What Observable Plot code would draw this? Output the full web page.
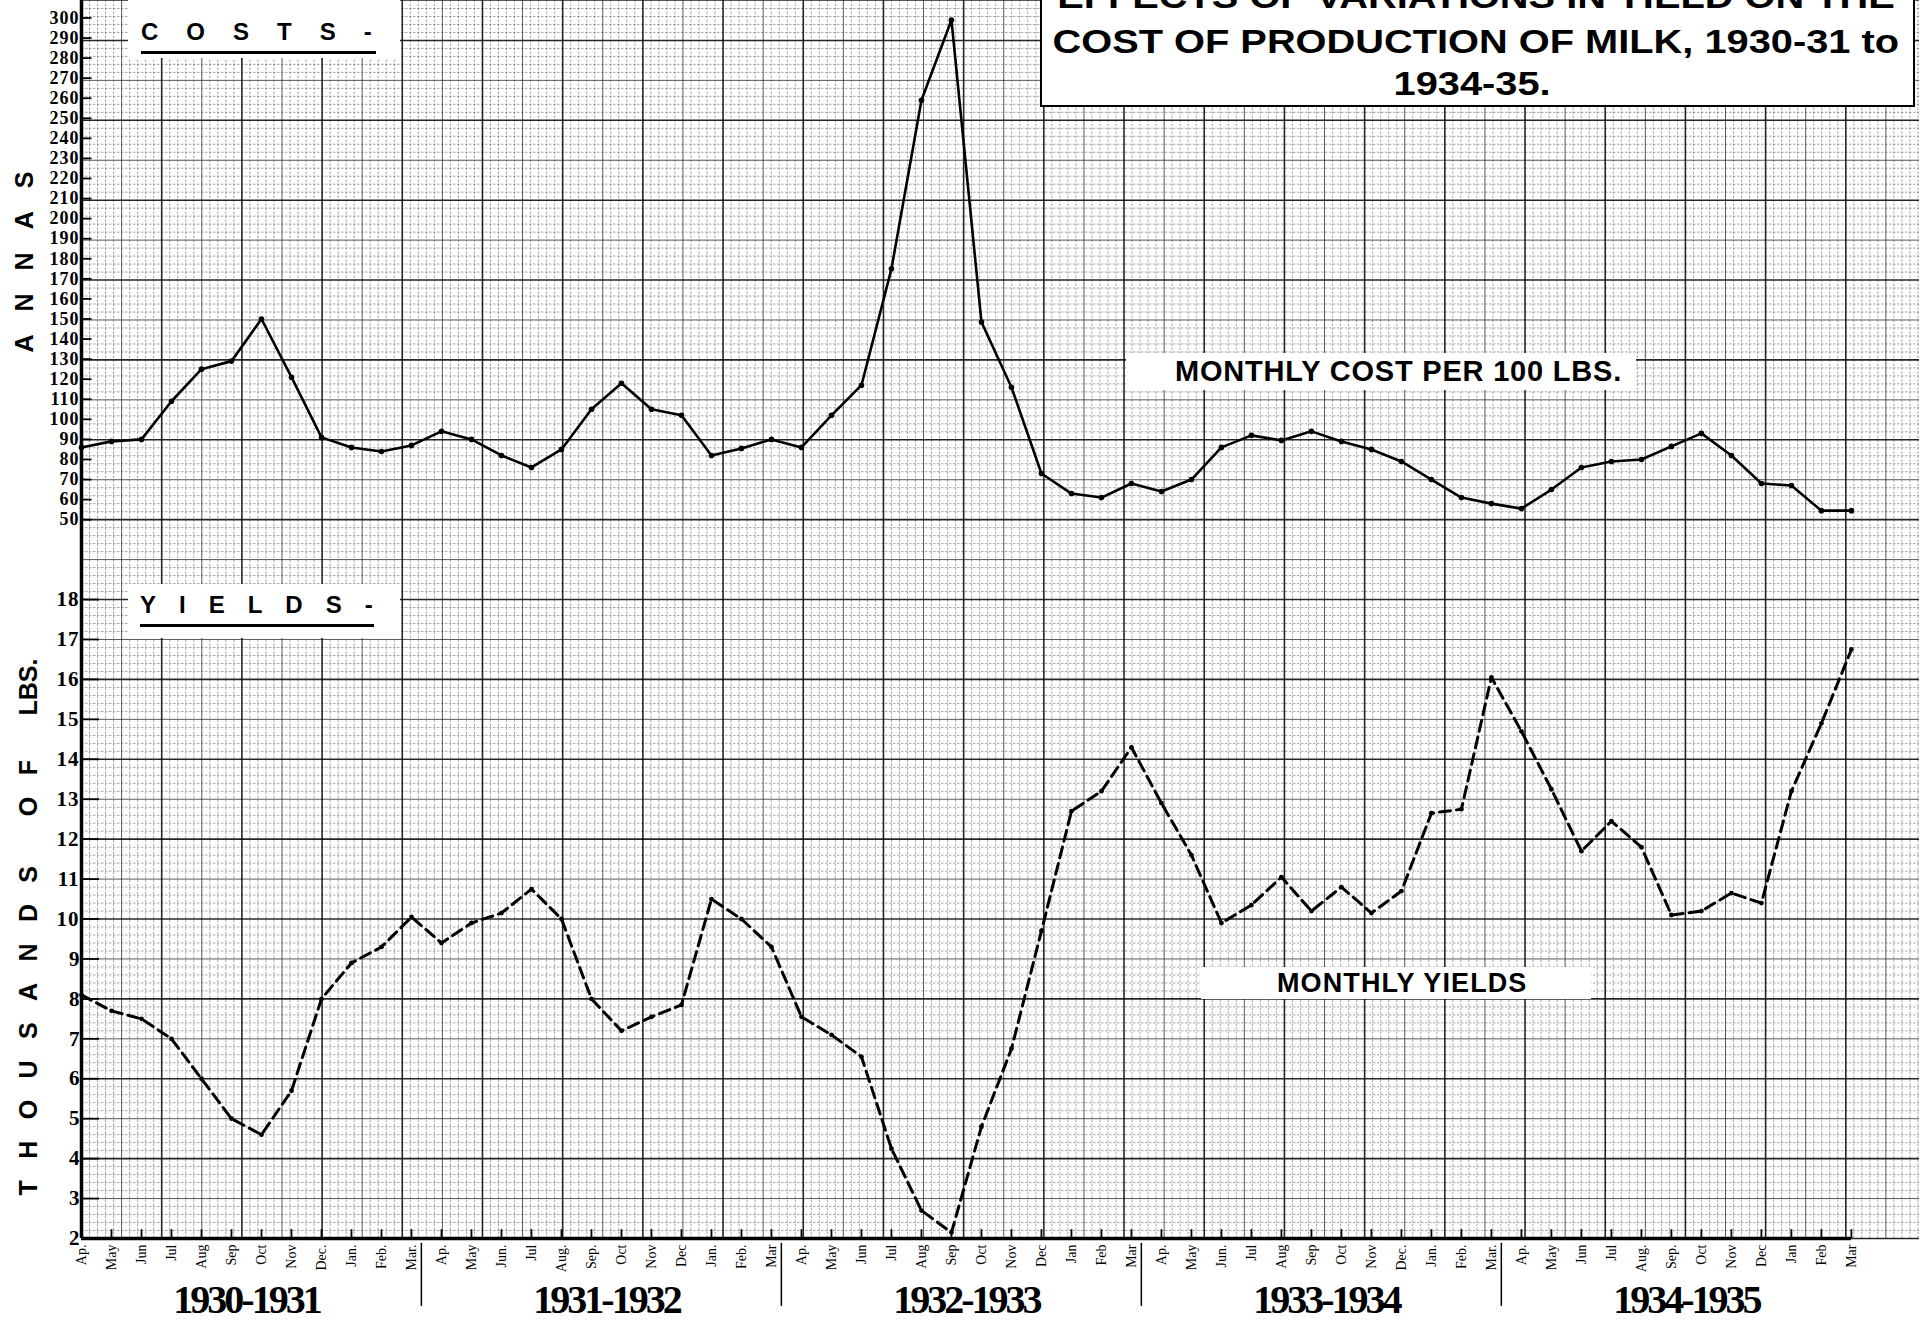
<!DOCTYPE html>
<html>
<head>
<meta charset="utf-8">
<script src="https://cdn.jsdelivr.net/npm/d3@7"></script>
<script src="https://cdn.jsdelivr.net/npm/@observablehq/plot@0.6"></script>
<style>
html, body { margin: 0; padding: 0; background: #fff; }
#wrap { position: relative; width: 1929px; height: 1324px; overflow: hidden; background: #fff; }
#wrap svg { display: block; position: absolute; left: 0; top: 0; }
.box { position: absolute; background: #fff; box-sizing: border-box; }
.lbl { position: absolute; line-height: 1; white-space: nowrap; font-family: "Liberation Sans", Arial, sans-serif; font-weight: bold; color: #000; }
.lbl span { display: inline-block; }
.uline { position: absolute; background: #000; }
</style>
</head>
<body>
<div id="wrap"></div>
<script>
// ---------------- DATA ----------------
const monthLabels = [
  "Ap.","May","Jun","Jul","Aug","Sep","Oct","Nov","Dec.","Jan.","Feb.","Mar.",
  "Ap.","May","Jun.","Jul","Aug.","Sep.","Oct","Nov","Dec","Jan.","Feb.","Mar",
  "Ap.","May","Jun","Jul","Aug","Sep","Oct","Nov","Dec","Jan","Feb","Mar",
  "Ap.","May","Jun.","Jul","Aug","Sep","Oct","Nov","Dec.","Jan.","Feb.","Mar.",
  "Ap.","May","Jun","Jul","Aug.","Sep.","Oct","Nov","Dec","Jan","Feb","Mar"
];
const seasons = ["1930-1931","1931-1932","1932-1933","1933-1934","1934-1935"];

// Monthly cost per 100 lbs (annas)
const costs = [
  86, 89, 90, 109, 125, 129, 150, 121, 91, 86, 84, 87,
  94, 90, 82, 76, 85, 105, 118, 105, 102, 82, 85.5, 90,
  86, 102, 117, 175, 259, 299, 148.5, 116, 73, 63, 61, 68,
  64, 70, 86, 92, 89.5, 94, 89, 85, 79, 70, 61, 58,
  55.5, 65, 76, 79, 80, 86.5, 93, 82, 68, 67, 54.5, 54.5
];
// Monthly yields (thousands of lbs)
const yields = [
  8.1, 7.7, 7.5, 7.0, 6.0, 5.0, 4.6, 5.7, 8.0, 8.9, 9.3, 10.05,
  9.4, 9.9, 10.15, 10.75, 10.0, 8.0, 7.2, 7.55, 7.85, 10.5, 10.0, 9.3,
  7.55, 7.1, 6.55, 4.25, 2.7, 2.15, 4.8, 6.75, 9.7, 12.7, 13.2, 14.3,
  12.9, 11.6, 9.9, 10.35, 11.05, 10.2, 10.8, 10.15, 10.7, 12.65, 12.75, 16.05,
  14.7, 13.25, 11.7, 12.45, 11.8, 10.1, 10.2, 10.65, 10.4, 13.2, 14.9, 16.75
];

const costTicks = [50,60,70,80,90,100,110,120,130,140,150,160,170,180,190,200,210,220,230,240,250,260,270,280,290,300];
const yieldTicks = [2,3,4,5,6,7,8,9,10,11,12,13,14,15,16,17,18];

// ---------------- LAYOUT ----------------
const X_MAX = 61.27, Y_MIN = 2, Y_MAX = 33;
// costs share the vertical axis with yields: 50 annas sits at the 20 (thousand lbs) level
const c2y = c => 20 + (c - 50) / 19.9;

const costData = costs.map((c, i) => ({i, v: c2y(c)}));
const yieldData = yields.map((v, i) => ({i, v}));

// graph-paper grid (decoration)
const gxStep = 80.2 / 30 / 10, gyStep = 0.2;
const gx = d3.range(0, Math.floor(X_MAX / gxStep) + 1).map(k => ({v: k * gxStep, k}));
const gy = d3.range(0, Math.floor((Y_MAX - Y_MIN) / gyStep) + 1).map(k => ({v: Y_MIN + k * gyStep, k}));
const level = k => (k % 10 === 0 ? 2 : k % 5 === 0 ? 1 : 0);

const seasonBreaks = seasons.slice(1).map((d, i) => 12 * (i + 1) - 0.67);

const serif = "'Liberation Serif', 'Times New Roman', serif";
const sans = "'Liberation Sans', Arial, sans-serif";

const chart = Plot.plot({
  width: 1929, height: 1324,
  marginLeft: 81, marginRight: 10, marginTop: 0, marginBottom: 86,
  x: {type: "linear", domain: [0, X_MAX], axis: null},
  y: {type: "linear", domain: [Y_MIN, Y_MAX], axis: null},
  style: {background: "white", fontFamily: serif, color: "black"},
  marks: [
    // grid
    Plot.ruleX(gx.filter(d => level(d.k) === 0), {x: "v", y1: Y_MIN, y2: Y_MAX, stroke: "#333", strokeOpacity: 0.55, strokeWidth: 0.8, strokeDasharray: "2.5,1.5"}),
    Plot.ruleY(gy.filter(d => level(d.k) === 0), {y: "v", x1: 0, x2: X_MAX, stroke: "#333", strokeOpacity: 0.55, strokeWidth: 0.8, strokeDasharray: "2.5,1.5"}),
    Plot.ruleX(gx.filter(d => level(d.k) === 1), {x: "v", y1: Y_MIN, y2: Y_MAX, stroke: "#222", strokeOpacity: 0.75, strokeWidth: 1}),
    Plot.ruleY(gy.filter(d => level(d.k) === 1), {y: "v", x1: 0, x2: X_MAX, stroke: "#222", strokeOpacity: 0.75, strokeWidth: 1}),
    Plot.ruleX(gx.filter(d => level(d.k) === 2), {x: "v", y1: Y_MIN, y2: Y_MAX, stroke: "#000", strokeOpacity: 0.85, strokeWidth: 1.6}),
    Plot.ruleY(gy.filter(d => level(d.k) === 2), {y: "v", x1: 0, x2: X_MAX, stroke: "#000", strokeOpacity: 0.85, strokeWidth: 1.6}),

    // axes lines
    Plot.ruleX([0], {y1: Y_MIN, y2: Y_MAX, stroke: "black", strokeWidth: 3.5}),
    Plot.ruleY([Y_MIN], {x1: 0, x2: monthLabels.length - 1, stroke: "black", strokeWidth: 3.5}),

    // ticks
    Plot.ruleX(monthLabels.map((d, i) => i), {y1: Y_MIN, y2: Y_MIN + 0.22, stroke: "black", strokeWidth: 1.8}),
    Plot.ruleY(costTicks, {y: c2y, x1: 0, x2: 0.35, stroke: "black", strokeWidth: 1.8}),
    Plot.ruleY(yieldTicks, {y: d => d, x1: 0, x2: 0.6, stroke: "black", strokeWidth: 1.8}),

    // tick labels
    Plot.text(costTicks, {y: c2y, text: d => String(d), frameAnchor: "left", textAnchor: "end", lineAnchor: "middle", dx: -2, fontSize: 18, fontWeight: "bold", fontFamily: serif, fill: "black"}),
    Plot.text(yieldTicks, {y: d => d, text: d => String(d), frameAnchor: "left", textAnchor: "end", lineAnchor: "middle", dx: -2, fontSize: 21, fontWeight: "bold", fontFamily: serif, fill: "black"}),
    Plot.text(monthLabels, {x: (d, i) => i, y: Y_MIN, text: d => d, dy: 6, rotate: -90, textAnchor: "end", lineAnchor: "middle", fontSize: 14, fontFamily: serif, fill: "black"}),
    Plot.text(seasons, {x: (d, i) => 12 * i + 5.5, y: Y_MIN, text: d => d, dy: 74, lineAnchor: "bottom", fontSize: 40, fontWeight: "bold", fontFamily: serif, fill: "black"}),
    Plot.ruleX(seasonBreaks, {y1: Y_MIN - 0.12, y2: Y_MIN - 1.7, stroke: "black", strokeWidth: 1.5}),

    // axis titles
    Plot.text(["ANNAS"], {text: d => d, frameAnchor: "top-left", dx: -57, dy: 352, rotate: -90, textAnchor: "start", lineAnchor: "middle", fontSize: 25, fontWeight: "bold", fontFamily: sans, fill: "black"}),
    Plot.text(["THOUSANDS OF"], {text: d => d, frameAnchor: "bottom-left", dx: -53, dy: -43, rotate: -90, textAnchor: "start", lineAnchor: "middle", fontSize: 25, fontWeight: "bold", fontFamily: sans, fill: "black"}),
    Plot.text(["LBS."], {text: d => d, frameAnchor: "top-left", dx: -53, dy: 715, rotate: -90, textAnchor: "start", lineAnchor: "middle", fontSize: 25, fontWeight: "bold", fontFamily: sans, fill: "black"}),

    // data
    Plot.line(costData, {x: "i", y: "v", stroke: "black", strokeWidth: 2.6}),
    Plot.dot(costData, {x: "i", y: "v", r: 2.8, fill: "black"}),
    Plot.line(yieldData, {x: "i", y: "v", stroke: "black", strokeWidth: 3, strokeDasharray: "11,6"}),
    Plot.dot(yieldData, {x: "i", y: "v", r: 2.4, fill: "black"})
  ]
});

// letter spacing for spaced-out titles
d3.select(chart).selectAll("text").each(function () {
  const t = this.textContent;
  if (t === "ANNAS") this.style.letterSpacing = "23px";
  else if (t === "THOUSANDS OF") this.style.letterSpacing = "21.4px";
  else if (/^\d{4}-\d{4}$/.test(t)) this.style.letterSpacing = "-3px";
  else if (/^\d{3}$/.test(t) || /^\d{2}$/.test(t)) this.style.letterSpacing = "1px";
});

const wrap = document.getElementById("wrap");
wrap.appendChild(chart);

// ---------------- overlays (boxed labels) ----------------
function box(l, t, w, h, border) {
  const d = document.createElement("div");
  d.className = "box";
  Object.assign(d.style, {left: l + "px", top: t + "px", width: w + "px", height: h + "px", border: border || "none"});
  wrap.appendChild(d);
}
function label(text, {x, baseline, size, spacing = 0, anchor = "start", scaleX = 1}) {
  const d = document.createElement("div");
  d.className = "lbl";
  const sp = document.createElement("span");
  sp.textContent = text;
  if (scaleX !== 1) { sp.style.transform = `scaleX(${scaleX})`; sp.style.transformOrigin = "center"; }
  d.appendChild(sp);
  const s = d.style;
  s.fontSize = size + "px";
  s.letterSpacing = spacing + "px";
  s.top = (baseline - 0.8465 * size) + "px";
  if (anchor === "middle") {
    s.left = (x - 1000) + "px"; s.width = "2000px"; s.textAlign = "center"; s.paddingLeft = spacing + "px"; s.boxSizing = "border-box";
  } else s.left = x + "px";
  wrap.appendChild(d);
}
function uline(x1, x2, y, w) {
  const d = document.createElement("div");
  d.className = "uline";
  Object.assign(d.style, {left: x1 + "px", top: (y - w / 2) + "px", width: (x2 - x1) + "px", height: w + "px"});
  wrap.appendChild(d);
}

// title
box(1040, -40, 875, 147, "2px solid #000");
label("EFFECTS OF VARIATIONS IN YIELD ON THE", {x: 1476, baseline: 8, size: 34, anchor: "middle", scaleX: 1.17});
label("COST OF PRODUCTION OF MILK, 1930-31 to", {x: 1476, baseline: 53, size: 34, anchor: "middle", scaleX: 1.17});
label("1934-35.", {x: 1472, baseline: 95, size: 34, anchor: "middle", scaleX: 1.17});

// COSTS-
box(128, 0, 272, 58);
label("COSTS-", {x: 141, baseline: 40, size: 24, spacing: 28});
uline(141, 376, 52, 3);

// YIELDS-
box(128, 584, 272, 54);
label("YIELDS-", {x: 140, baseline: 613, size: 24, spacing: 23});
uline(140, 374, 625, 3);

// series labels
box(1126, 353, 510, 37);
label("MONTHLY COST PER 100 LBS.", {x: 1175, baseline: 382, size: 29, spacing: 0.8});
box(1201, 967, 390, 32);
label("MONTHLY YIELDS", {x: 1277, baseline: 993, size: 27, spacing: 1.1});
</script>
</body>
</html>
